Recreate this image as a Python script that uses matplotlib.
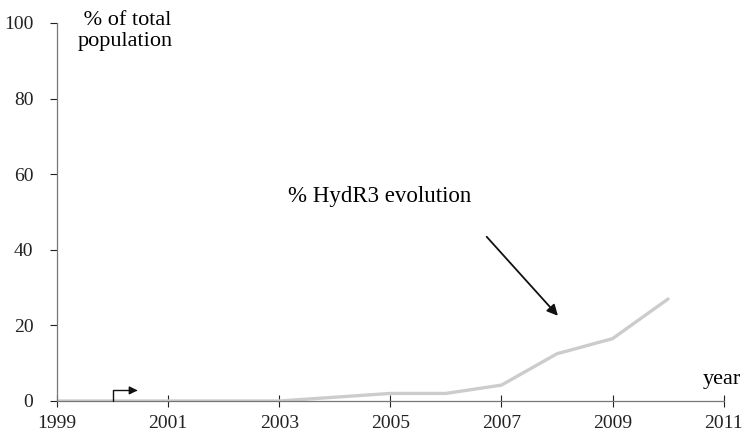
import matplotlib.pyplot as plt

years = [1999, 2000, 2001, 2002, 2003, 2004, 2005, 2006, 2007, 2008, 2009, 2010]
hydr3 = [0, 0, 0, 0, 0, 1, 2, 2, 4.2, 12.5, 16.5, 27]

x_ticks = [1999, 2001, 2003, 2005, 2007, 2009, 2011]
y_ticks = [0, 20, 40, 60, 80, 100]

plt.rcParams['font.family'] = ['Liberation Serif', 'DejaVu Serif']

fig = plt.figure(figsize=(7.43, 4.37), dpi=100)
ax = fig.add_axes([0.0767, 0.0824, 0.8973, 0.8650])

ax.plot(years, hydr3, color='#cccccc', lw=2.4, solid_capstyle='round')

ax.set_xlim(1999, 2011)
ax.set_ylim(0, 100)
ax.set_xticks(x_ticks)
ax.set_yticks(y_ticks)
ax.tick_params(labelsize=14, colors='#222222', length=5, width=0.8)
ax.tick_params(axis='y', pad=12)
ax.tick_params(axis='x', pad=6, direction='inout', length=8)
for s in ['top', 'right']:
    ax.spines[s].set_visible(False)
for s in ['left', 'bottom']:
    ax.spines[s].set_color('#777777')
    ax.spines[s].set_linewidth(0.9)

fig.text(0.105, 0.975, ' % of total\npopulation', fontsize=16, va='top', ha='left',
         linespacing=1.15)
fig.text(0.997, 0.11, 'year', fontsize=16, ha='right', va='bottom')

ax.text(2004.8, 54, '% HydR3 evolution', fontsize=16.5, ha='center', va='center')
ax.annotate('', xy=(2008.05, 22), xytext=(2006.7, 44),
            arrowprops=dict(arrowstyle='-|>', color='#111111', lw=1.3,
                            mutation_scale=16))
ax.annotate('', xy=(2000.45, 2.8), xytext=(2000, 0),
            arrowprops=dict(arrowstyle='-|>', color='#111111', lw=1.0,
                            mutation_scale=12,
                            connectionstyle='angle,angleA=90,angleB=0,rad=0',
                            shrinkA=0, shrinkB=0))

fig.savefig('out.png', dpi=100)
